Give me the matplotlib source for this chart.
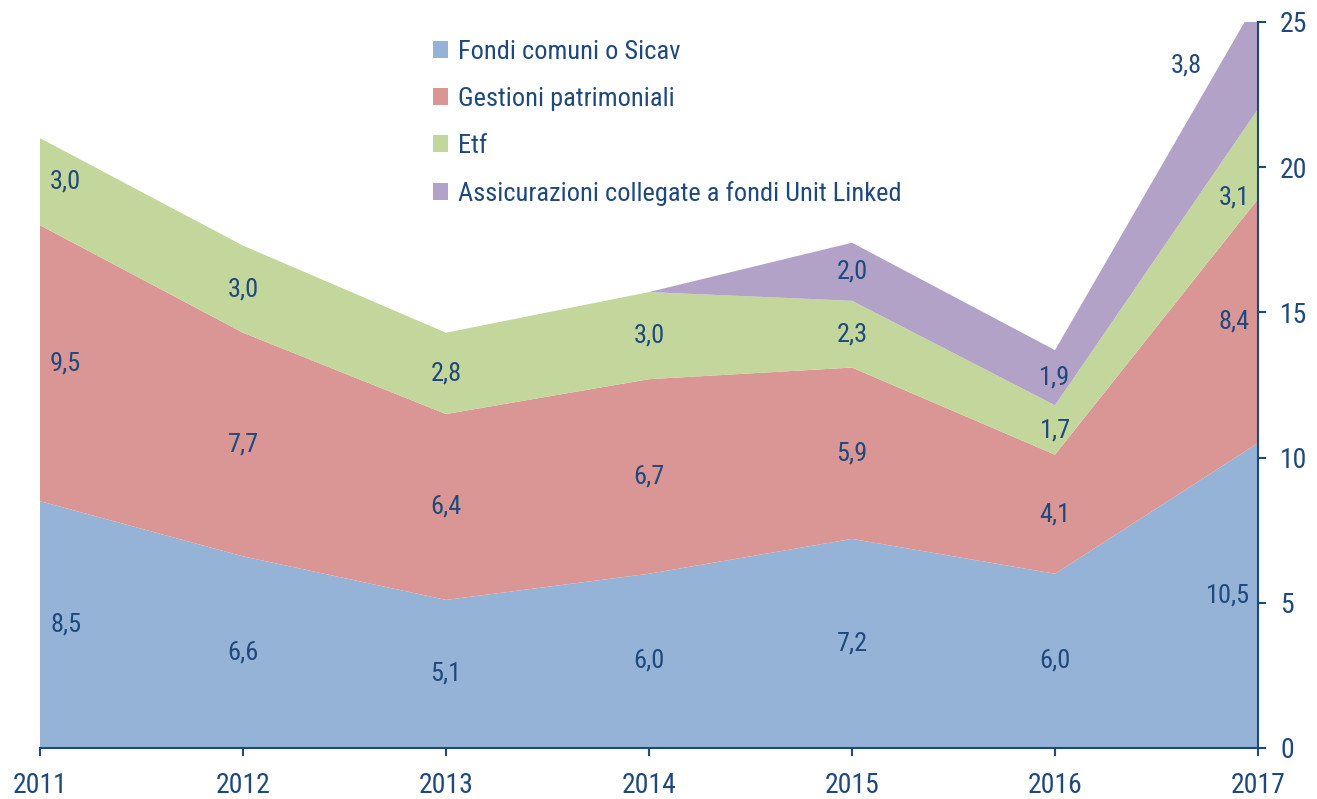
import numpy as np
import matplotlib.pyplot as plt
from matplotlib.patches import Patch

plt.rcParams['font.family'] = ['Liberation Sans Narrow', 'Arial Narrow',
                               'Roboto Condensed', 'PT Sans Narrow',
                               'Archivo Narrow', 'Liberation Sans', 'DejaVu Sans']

years = [2011, 2012, 2013, 2014, 2015, 2016, 2017]
fondi = [8.5, 6.6, 5.1, 6.0, 7.2, 6.0, 10.5]
gestioni = [9.5, 7.7, 6.4, 6.7, 5.9, 4.1, 8.4]
etf = [3.0, 3.0, 2.8, 3.0, 2.3, 1.7, 3.1]
assicurazioni = [0, 0, 0, 0, 2.0, 1.9, 3.8]

names = ['Fondi comuni o Sicav', 'Gestioni patrimoniali', 'Etf',
         'Assicurazioni collegate a fondi Unit Linked']
colors = ['#95b3d7', '#d99694', '#c3d69b', '#b3a2c7']
txt = '#1f497d'
ymax = 25

series = [fondi, gestioni, etf, assicurazioni]

# a couple of labels sit off the band centre in the original (pixels)
nudge = {(2, 6): (0, -43), (3, 6): (-48, 0)}

fig = plt.figure(figsize=(13.17, 7.99), dpi=100)
ax = fig.add_axes([40 / 1317, 51 / 799, 1218 / 1317, 726 / 799])

ax.stackplot(years, *series, colors=colors, linewidth=0)

# data labels in the middle of each band
base = np.zeros(len(years))
for k, s in enumerate(series):
    s = np.array(s, dtype=float)
    top = base + s
    for i, (x, v) in enumerate(zip(years, s)):
        if v <= 0:
            continue
        y = (base[i] + min(top[i], ymax)) / 2
        if i == 0:
            ha, dx = 'left', 10
        elif i == len(years) - 1:
            ha, dx = 'right', -8
        else:
            ha, dx = 'center', 0
        ndx, ndy = nudge.get((k, i), (0, 0))
        ax.annotate(('%.1f' % v).replace('.', ','), (x, y),
                    xytext=((dx + ndx) * 0.72, ndy * 0.72),
                    textcoords='offset points',
                    ha=ha, va='center', fontsize=19, color=txt)
    base = top

ax.set_xlim(years[0], years[-1])
ax.set_ylim(0, ymax)
ax.set_xticks(years)
ax.set_yticks(range(0, 26, 5))
ax.yaxis.tick_right()
ax.spines['top'].set_visible(False)
ax.spines['left'].set_visible(False)
for sp in ['bottom', 'right']:
    ax.spines[sp].set_color(txt)
    ax.spines[sp].set_linewidth(1.5)
ax.tick_params(axis='both', colors=txt, labelcolor=txt, labelsize=20,
               direction='out', length=6, width=1.5)
ax.tick_params(axis='x', pad=11)
ax.tick_params(axis='y', pad=10)

handles = [Patch(facecolor=c, edgecolor='none') for c in colors]
fig.legend(handles, names, loc='upper left',
           bbox_to_anchor=(422 / 1317, 1 - 29 / 799), frameon=False,
           fontsize=19, labelcolor=txt, handlelength=0.6, handleheight=0.6,
           handletextpad=0.35, labelspacing=0.88, borderaxespad=0)

fig.savefig('out.png', dpi=100)
